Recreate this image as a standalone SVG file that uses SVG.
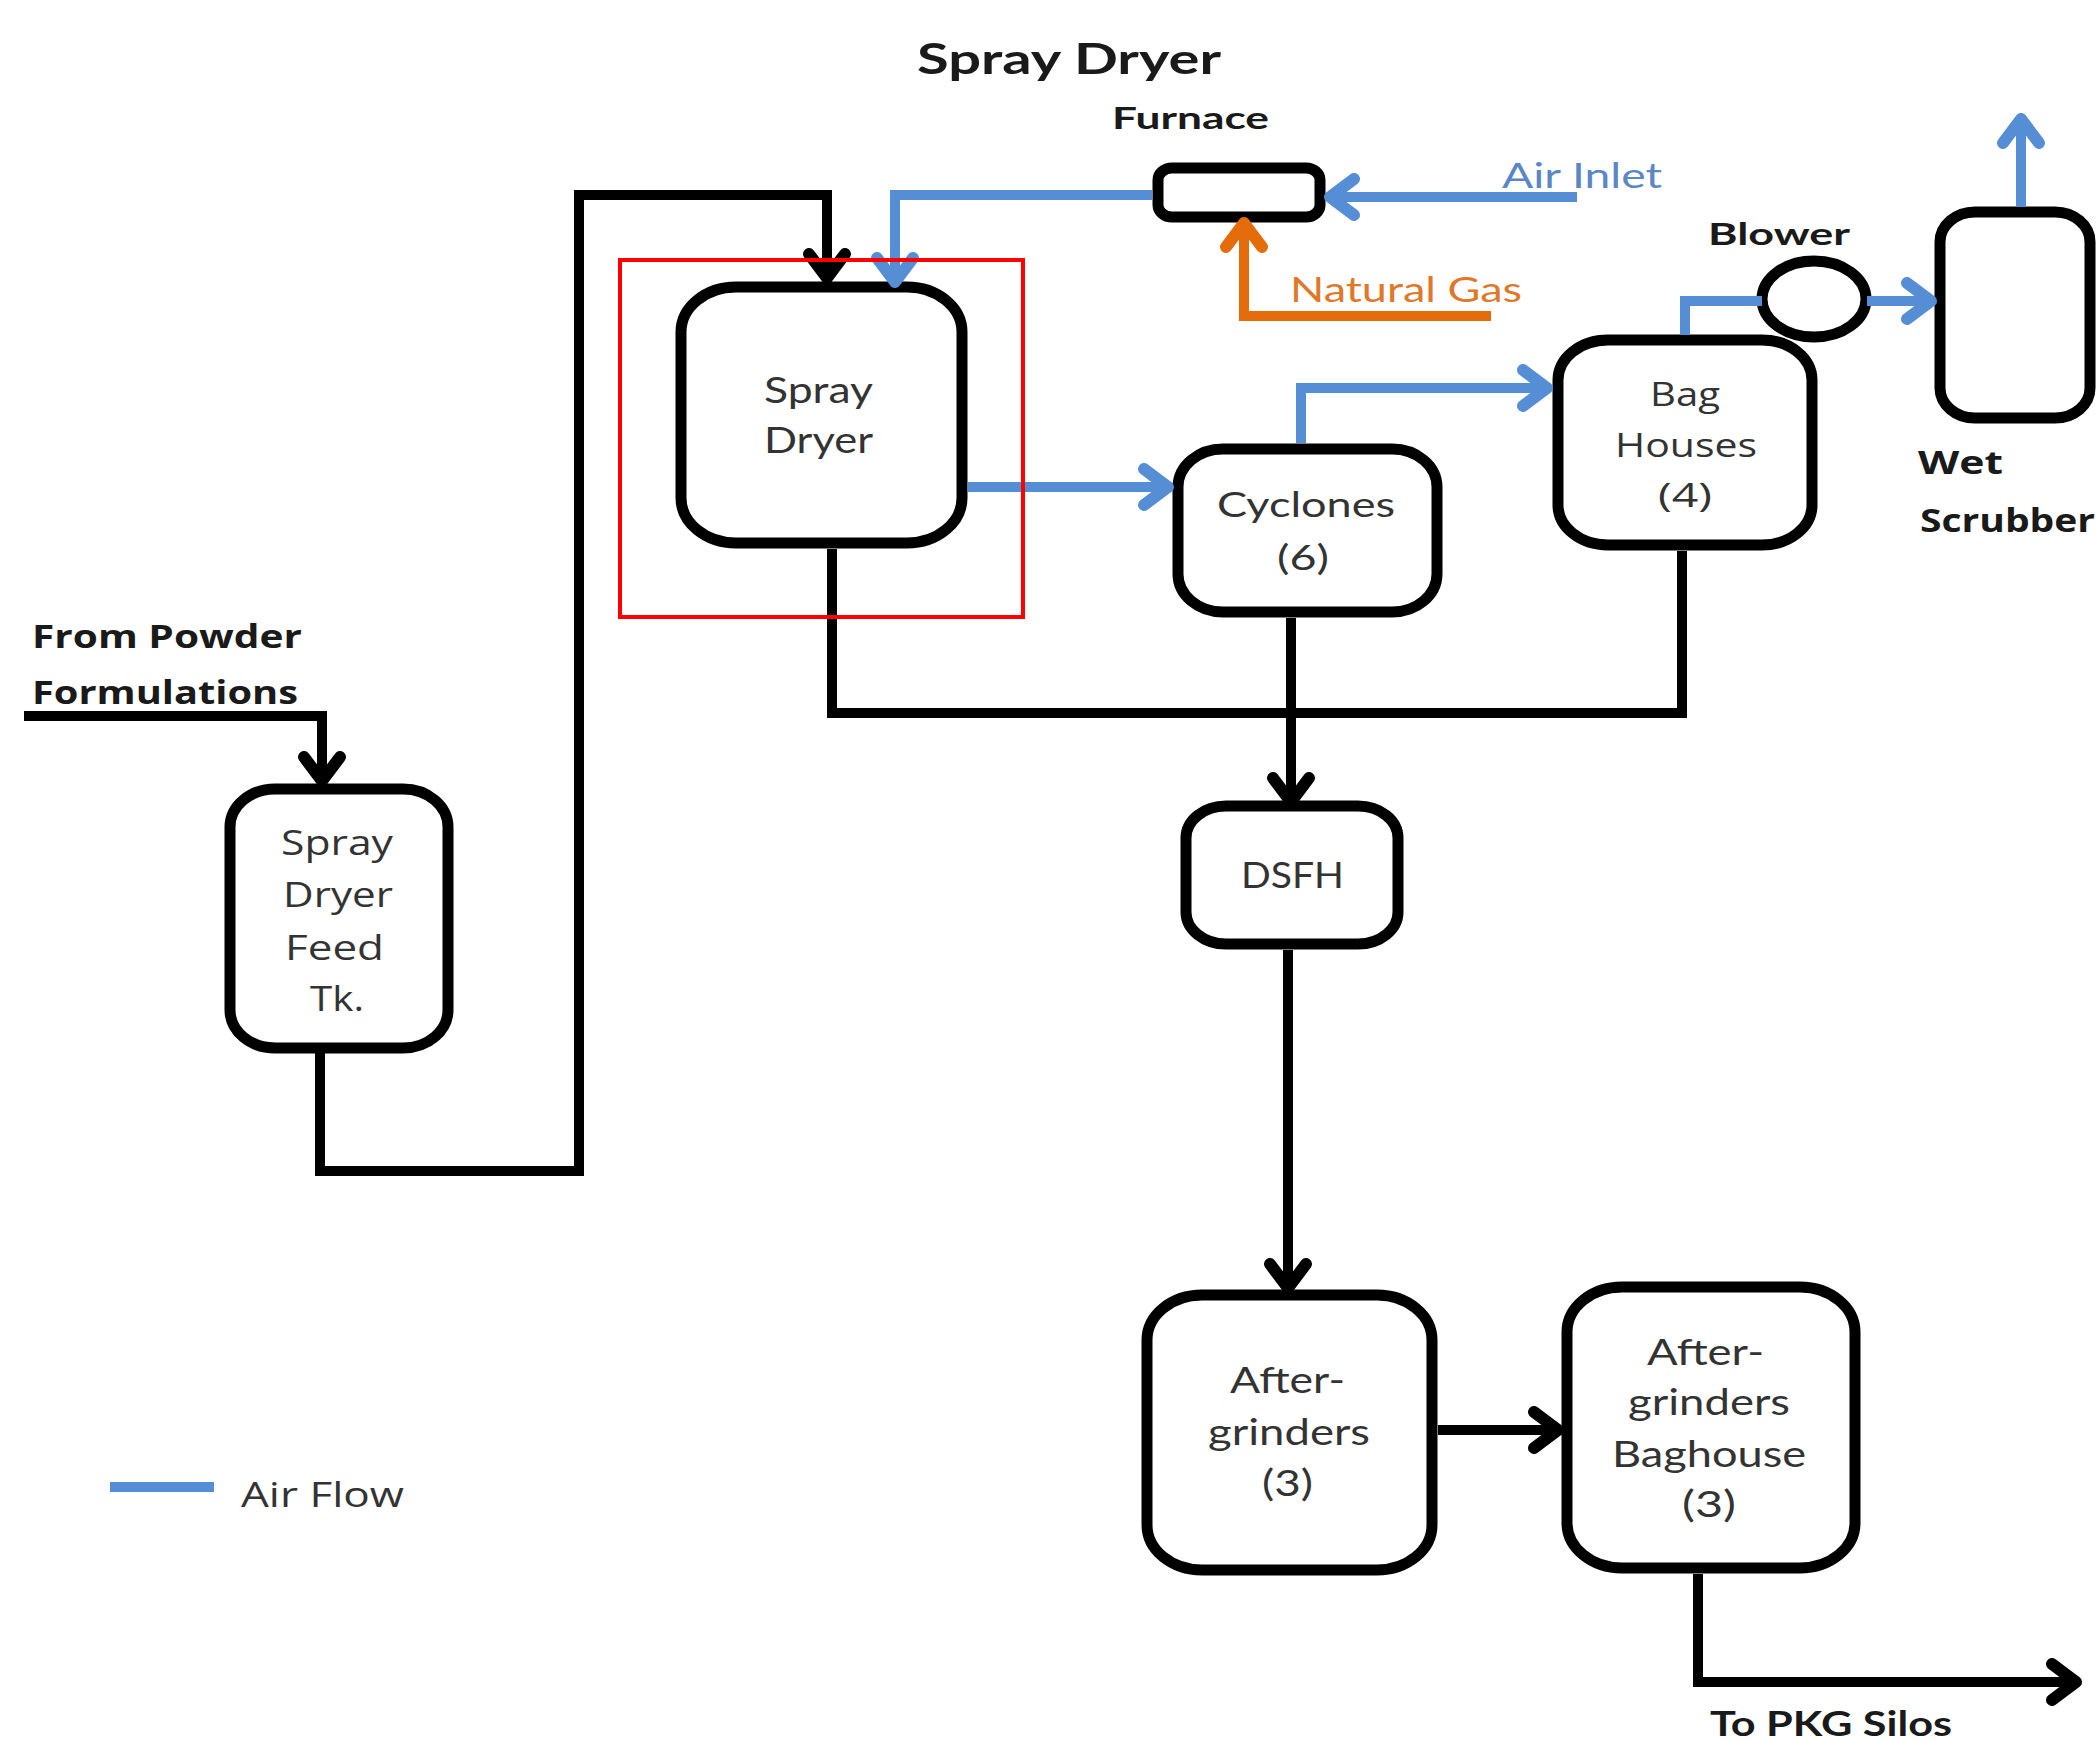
<svg xmlns="http://www.w3.org/2000/svg" width="2097" height="1741" viewBox="0 0 2097 1741">
<style>
.node rect, .node ellipse {fill:#fff; stroke:#000; stroke-width:11}
.ln {fill:none; stroke-width:10}
.k {stroke:#000}
.b {stroke:#558ED5}
.o {stroke:#E46C0A}
.t1 {font-family: Lato, "Liberation Sans", sans-serif; fill:#333}
.t2 {font-family: "Open Sans", "DejaVu Sans", sans-serif; fill:#333}
.bd {font-weight:bold; fill:#1a1a1a}
.ah {fill:none; stroke-width:12; stroke-linecap:round; stroke-linejoin:round}
</style>
<defs>
<marker id="ak" markerUnits="userSpaceOnUse" viewBox="-40 -30 60 60" refX="0" refY="0" markerWidth="60" markerHeight="60" orient="auto" overflow="visible">
<path class="ah" d="M-24,-18 L0,0 L-24,18" stroke="#000"/>
</marker>
<marker id="ab" markerUnits="userSpaceOnUse" viewBox="-40 -30 60 60" refX="0" refY="0" markerWidth="60" markerHeight="60" orient="auto" overflow="visible">
<path class="ah" d="M-24,-18 L0,0 L-24,18" stroke="#558ED5"/>
</marker>
<marker id="ao" markerUnits="userSpaceOnUse" viewBox="-40 -30 60 60" refX="0" refY="0" markerWidth="60" markerHeight="60" orient="auto" overflow="visible">
<path class="ah" d="M-24,-18 L0,0 L-24,18" stroke="#E46C0A"/>
</marker>
</defs>
<rect width="2097" height="1741" fill="#fff"/>

<g id="nodes">
<g id="n-furnace" class="node"><rect x="1158" y="168" width="162" height="49" rx="14" ry="12"/></g>
<g id="n-spraydryer" class="node"><rect x="681" y="287" width="281" height="256" rx="55" ry="45"/>
<text class="t1" font-size="36" x="764" y="403" textLength="109" lengthAdjust="spacingAndGlyphs">Spray</text>
<text class="t1" font-size="36" x="764" y="453" textLength="109" lengthAdjust="spacingAndGlyphs">Dryer</text></g>
<g id="n-feedtank" class="node"><rect x="230" y="789" width="218" height="259" rx="45" ry="38"/>
<text class="t2" font-size="34" x="281" y="855" textLength="112" lengthAdjust="spacingAndGlyphs">Spray</text>
<text class="t2" font-size="34" x="283" y="907" textLength="110" lengthAdjust="spacingAndGlyphs">Dryer</text>
<text class="t2" font-size="34" x="285" y="960" textLength="99" lengthAdjust="spacingAndGlyphs">Feed</text>
<text class="t2" font-size="34" x="310" y="1011" textLength="54" lengthAdjust="spacingAndGlyphs">Tk.</text></g>
<g id="n-cyclones" class="node"><rect x="1178" y="449" width="259" height="163" rx="45" ry="38"/>
<text class="t1" font-size="35" x="1217" y="517" textLength="178" lengthAdjust="spacingAndGlyphs">Cyclones</text>
<text class="t1" font-size="35" x="1277" y="570" textLength="52" lengthAdjust="spacingAndGlyphs">(6)</text></g>
<g id="n-baghouses" class="node"><rect x="1558" y="340" width="254" height="205" rx="50" ry="40"/>
<text class="t2" font-size="33" x="1650" y="406" textLength="70" lengthAdjust="spacingAndGlyphs">Bag</text>
<text class="t2" font-size="33" x="1615" y="457" textLength="142" lengthAdjust="spacingAndGlyphs">Houses</text>
<text class="t2" font-size="33" x="1658" y="507" textLength="54" lengthAdjust="spacingAndGlyphs">(4)</text></g>
<g id="n-blower" class="node"><ellipse cx="1814" cy="299" rx="52" ry="38"/></g>
<g id="n-scrubber" class="node"><rect x="1940" y="212" width="150" height="206" rx="35" ry="30"/></g>
<g id="n-dsfh" class="node"><rect x="1186" y="806" width="212" height="138" rx="40" ry="32"/>
<text class="t1" font-size="36" x="1241" y="888" textLength="103" lengthAdjust="spacingAndGlyphs">DSFH</text></g>
<g id="n-aftergrinders" class="node"><rect x="1147" y="1295" width="285" height="275" rx="55" ry="45"/>
<text class="t1" font-size="36" x="1230" y="1393" textLength="115" lengthAdjust="spacingAndGlyphs">After-</text>
<text class="t1" font-size="36" x="1208" y="1445" textLength="162" lengthAdjust="spacingAndGlyphs">grinders</text>
<text class="t1" font-size="36" x="1262" y="1496" textLength="51" lengthAdjust="spacingAndGlyphs">(3)</text></g>
<g id="n-agbaghouse" class="node"><rect x="1567" y="1287" width="288" height="281" rx="55" ry="45"/>
<text class="t1" font-size="36" x="1647" y="1365" textLength="117" lengthAdjust="spacingAndGlyphs">After-</text>
<text class="t1" font-size="36" x="1628" y="1415" textLength="162" lengthAdjust="spacingAndGlyphs">grinders</text>
<text class="t1" font-size="36" x="1612" y="1467" textLength="194" lengthAdjust="spacingAndGlyphs">Baghouse</text>
<text class="t1" font-size="36" x="1682" y="1517" textLength="54" lengthAdjust="spacingAndGlyphs">(3)</text></g>
</g>

<g id="connectors">
<path class="ln k" d="M24,716 H322 V781" marker-end="url(#ak)"/>
<path class="ln k" d="M320,1053 V1171 H579 V195 H827 V278" marker-end="url(#ak)"/>
<path class="ln k" d="M832,549 V713 H1682 V551"/>
<path class="ln k" d="M1291,618 V802" marker-end="url(#ak)"/>
<path class="ln k" d="M1288,950 V1288" marker-end="url(#ak)"/>
<path class="ln k" d="M1438,1430 H1558" marker-end="url(#ak)"/>
<path class="ln k" d="M1698,1574 V1682 H2076" marker-end="url(#ak)"/>
<path class="ln b" d="M1577,197 H1330" marker-end="url(#ab)"/>
<path class="ln b" d="M1152,195 H895 V282" marker-end="url(#ab)"/>
<path class="ln b" d="M968,487 H1168" marker-end="url(#ab)"/>
<path class="ln b" d="M1301,443 V388 H1547" marker-end="url(#ab)"/>
<path class="ln b" d="M1685,335 V301 H1762"/>
<path class="ln b" d="M1867,301 H1931" marker-end="url(#ab)"/>
<path class="ln b" d="M2021,207 V119" marker-end="url(#ab)"/>
<path class="ln o" d="M1491,316 H1244 V223" marker-end="url(#ao)"/>
</g>

<g id="labels">
<text class="t1 bd" font-size="42" x="917" y="74" textLength="304" lengthAdjust="spacingAndGlyphs">Spray Dryer</text>
<text class="t1 bd" font-size="31" x="1112" y="129" textLength="157" lengthAdjust="spacingAndGlyphs">Furnace</text>
<text class="t1" font-size="34" x="1502" y="188" textLength="160" lengthAdjust="spacingAndGlyphs" style="fill:#5B87C5">Air Inlet</text>
<text class="t1" font-size="34" x="1290" y="302" textLength="232" lengthAdjust="spacingAndGlyphs" style="fill:#E0782A">Natural Gas</text>
<text class="t1 bd" font-size="31" x="1708" y="245" textLength="142" lengthAdjust="spacingAndGlyphs">Blower</text>
<text class="t2 bd" font-size="32" x="1918" y="474" textLength="85" lengthAdjust="spacingAndGlyphs">Wet</text>
<text class="t2 bd" font-size="32" x="1920" y="532" textLength="175" lengthAdjust="spacingAndGlyphs">Scrubber</text>
<text class="t2 bd" font-size="32" x="32" y="648" textLength="270" lengthAdjust="spacingAndGlyphs">From Powder</text>
<text class="t2 bd" font-size="32" x="32" y="704" textLength="266" lengthAdjust="spacingAndGlyphs">Formulations</text>
<text class="t1 bd" font-size="34" x="1710" y="1736" textLength="242" lengthAdjust="spacingAndGlyphs">To PKG Silos</text>
</g>

<g id="legend">
<line class="ln b" x1="110" y1="1487" x2="214" y2="1487"/>
<text class="t2" font-size="34" x="241" y="1507" textLength="163" lengthAdjust="spacingAndGlyphs">Air Flow</text>
</g>

<rect id="highlight" x="620" y="260" width="403" height="357" fill="none" stroke="#FF0000" stroke-width="4"/>
</svg>
